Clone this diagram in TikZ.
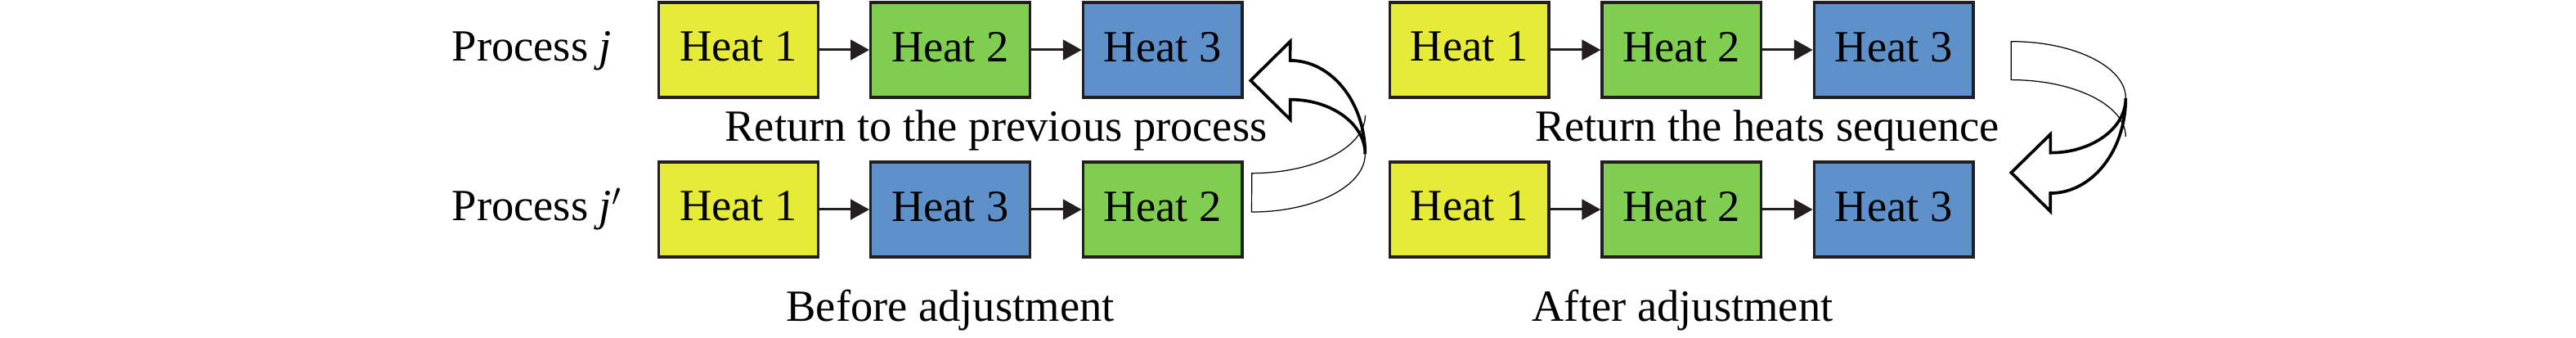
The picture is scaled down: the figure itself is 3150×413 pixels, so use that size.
\documentclass[tikz,border=0pt]{standalone}
\usepackage{fontspec}
\setmainfont{Liberation Serif}
\usetikzlibrary{arrows.meta}
\definecolor{hyel}{RGB}{229,235,54}
\definecolor{hgrn}{RGB}{127,206,80}
\definecolor{hblu}{RGB}{94,145,201}
\definecolor{hline}{RGB}{35,31,32}

\begin{document}
\begin{tikzpicture}[x=0.01cm, y=0.01cm,
  heatbox/.style={draw=hline, line width=0.95pt, minimum width=1.945cm, minimum height=1.16cm,
    text depth=0.08cm, inner sep=0pt, font=\fontsize{15.5pt}{18pt}\selectfont},
  lbl/.style={inner sep=0pt, font=\fontsize{15.5pt}{18pt}\selectfont},
  flow/.style={-{Triangle[length=6.5pt,width=7pt]}, line width=0.85pt, draw=hline},
  frontband/.style={line width=1.05pt},
  backband/.style={line width=0.35pt}]
\useasboundingbox (0,0) rectangle (3150,-413);

% Heats (a,b before adjustment; c,d after adjustment)
\foreach \n/\x/\y/\t/\c in {a1/903/61/1/hyel, a2/1162/61/2/hgrn, a3/1421.7/61/3/hblu,
    b1/903/256/1/hyel, b2/1162/256/3/hblu, b3/1421.7/256/2/hgrn,
    c1/1796.8/61/1/hyel, c2/2056.3/61/2/hgrn, c3/2315.7/61/3/hblu,
    d1/1796.8/256/1/hyel, d2/2056.3/256/2/hgrn, d3/2315.7/256/3/hblu} {
    \node[heatbox, fill=\c] (\n) at (\x,-\y) {Heat \t};
}

% Sequence arrows
\foreach \r in {a,b,c,d} {
    \draw[flow] (\r1) -- (\r2);
    \draw[flow] (\r2) -- (\r3);
}

% Labels
\node[lbl, anchor=base west] (pj) at (552,-75) {Process \textit{j}};
\node[lbl, anchor=base west] (pjj) at (552,-270) {Process \textit{j}$'$};
\node[lbl, anchor=base] (ret) at (1218,-173) {Return to the previous process};
\node[lbl, anchor=base] (before) at (1162,-393) {Before adjustment};
\node[lbl, anchor=base] (swap) at (2161,-173) {Return the heats sequence};
\node[lbl, anchor=base] (after) at (2057.5,-393) {After adjustment};

% Curved arrow: back to the previous process
\draw[backband] (1669.33,-188.33) arc[start angle=0, end angle=-90, x radius=1.3867cm, y radius=0.7067cm]
    -- (1530.67,-211.67) arc[start angle=-90, end angle=0, x radius=1.3867cm, y radius=0.7067cm];
\draw[frontband] (1669.33,-188.33) arc[start angle=0, end angle=90, x radius=0.9167cm, y radius=1.1433cm]
    -- (1577.67,-50.67) -- (1529.33,-98.33) -- (1577.67,-146) -- (1577.67,-121.67)
    arc[start angle=90, end angle=0, x radius=0.9167cm, y radius=0.6667cm];

% Curved arrow: return the heats sequence
\draw[backband] (2599.33,-167) arc[start angle=0, end angle=90, x radius=1.4cm, y radius=0.6933cm]
    -- (2459.33,-50.67) arc[start angle=90, end angle=0, x radius=1.4cm, y radius=0.6933cm];
\draw[frontband] (2599.33,-120) arc[start angle=0, end angle=-90, x radius=0.92cm, y radius=1.16cm]
    -- (2507.33,-258.33) -- (2459.33,-211) -- (2507.33,-164) -- (2507.33,-186.67)
    arc[start angle=-90, end angle=0, x radius=0.92cm, y radius=0.6667cm];
\end{tikzpicture}
\end{document}
